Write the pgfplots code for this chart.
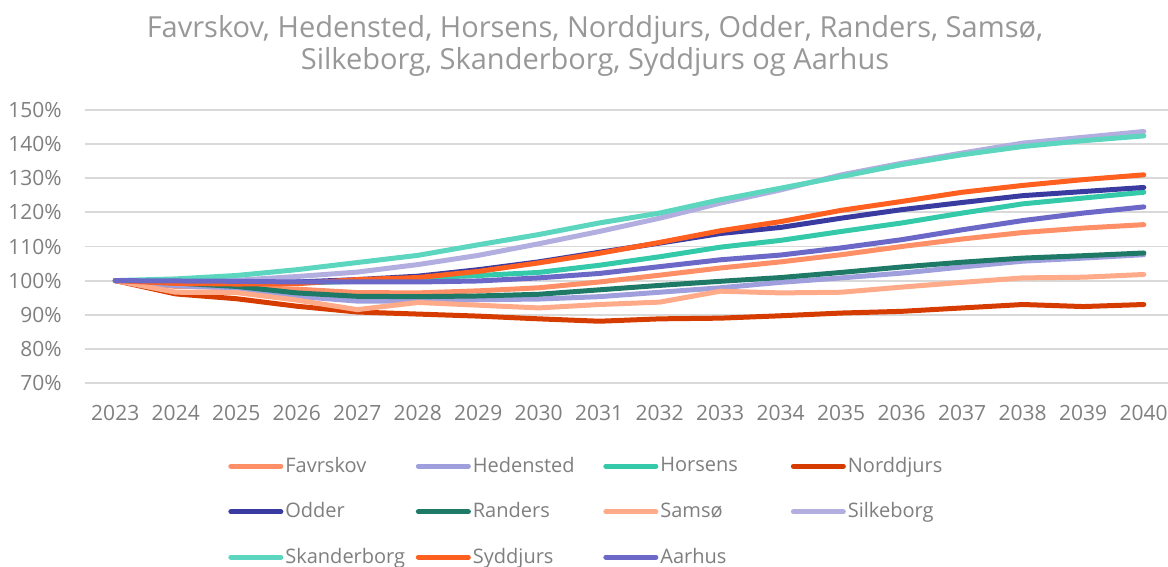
\documentclass[border=0pt]{standalone}
\usepackage{fontspec}
\setmainfont{Open Sans}
\usepackage{pgfplots}
\usepackage{pgfplotstable}
\pgfplotsset{compat=1.18}

\definecolor{txtgray}{HTML}{7F7F7F}
\definecolor{gridgray}{HTML}{D9D9D9}
\definecolor{cFavrskov}{HTML}{FF8F66}
\definecolor{cHedensted}{HTML}{A09FDD}
\definecolor{cHorsens}{HTML}{33C9A9}
\definecolor{cNorddjurs}{HTML}{D63C00}
\definecolor{cOdder}{HTML}{3A3BA0}
\definecolor{cRanders}{HTML}{1E7A66}
\definecolor{cSamsoe}{HTML}{FFAA88}
\definecolor{cSilkeborg}{HTML}{B3AEE0}
\definecolor{cSkanderborg}{HTML}{5CD6BE}
\definecolor{cSyddjurs}{HTML}{FF6020}
\definecolor{cAarhus}{HTML}{6B68C8}

% index, 2023 = 100
\pgfplotstableread{
year Favrskov Hedensted Horsens Norddjurs Odder Randers Samsoe Silkeborg Skanderborg Syddjurs Aarhus
2023 100   100   100   100   100   100   100   100   100   100   100
2024 98.3  98.5  99.8  96.1  99.5  99.3  96.6  100   100.5 99.2  99.9
2025 98.0  97.9  99.5  94.7  99.3  98.3  96.5  100.1 101.5 99.0  99.8
2026 97.5  95.4  99.3  92.5  99.6  96.4  94.3  101.2 103.2 99.1  99.6
2027 96.5  94.0  99.8  90.8  100.3 95.4  91.5  102.5 105.3 100.3 99.6
2028 96.4  94.0  100.8 90.2  101.3 95.3  93.6  104.7 107.4 100.9 99.6
2029 97.0  94.4  101.5 89.6  103.2 95.5  92.8  107.4 110.5 102.7 99.9
2030 97.9  94.6  102.4 88.8  105.5 96.0  92.0  110.8 113.5 105.2 100.8
2031 99.6  95.3  104.5 88.1  108.3 97.3  93.0  114.4 116.9 108.0 102.1
2032 101.6 96.6  107.0 88.8  111.0 98.6  93.7  118.3 119.8 111.2 104.1
2033 103.7 97.9  109.8 89.0  113.8 99.8  96.9  122.7 123.7 114.6 106.1
2034 105.5 99.5  111.8 89.7  115.6 100.9 96.4  126.6 127.1 117.3 107.5
2035 107.6 100.8 114.4 90.5  118.3 102.4 96.6  131.0 130.5 120.6 109.6
2036 110.0 102.2 116.9 91.0  120.8 104.0 98.1  134.4 134.0 123.2 112.0
2037 112.2 104.0 119.8 92.0  122.9 105.4 99.5  137.4 136.9 125.9 114.9
2038 114.1 105.7 122.5 93.0  124.9 106.6 100.8 140.3 139.3 127.9 117.6
2039 115.4 106.6 124.2 92.4  126.1 107.3 101.0 142.0 141.0 129.6 119.8
2040 116.4 107.6 125.9 93.0  127.3 108.1 101.8 143.7 142.4 131.0 121.6
}\datatable

\begin{document}
\begin{tikzpicture}
\begin{axis}[name=ax, scale only axis, width=541.5pt, height=136.5pt,
  xmin=2022.5, xmax=2040.4, ymin=70, ymax=150,
  xtick={2023,...,2040}, ytick={70,80,...,150},
  axis line style={draw=none}, major tick length=0pt,
  ymajorgrids, grid style={gridgray, line width=0.9pt},
  /pgf/number format/assume math mode=true,
  /pgf/number format/set thousands separator={},
  yticklabel={\pgfmathprintnumber{\tick}\%},
  ticklabel style={font=\fontsize{10.5}{12}\selectfont, text=txtgray},
  yticklabel style={inner sep=0pt, xshift=-11.5pt},
  xticklabel style={inner sep=0pt, yshift=-11pt},
  every axis plot/.append style={line width=2.5pt, line cap=round, line join=round},
  legend columns=4, legend cell align=left,
  legend image code/.code={\draw[line width=2.5pt, line cap=round] (0pt,0pt) -- (25pt,0pt);},
  legend style={at={(0.132,-0.22)}, anchor=north west, draw=none, inner sep=0pt,
    font=\fontsize{10}{12}\selectfont, text=txtgray,
    column sep=0pt, row sep=0pt,
    nodes={text width=64.25pt, minimum height=22.75pt, inner ysep=0pt, inner xsep=1pt}},
]
\addplot[cFavrskov] table[x=year, y=Favrskov] {\datatable};
\addlegendentry{Favrskov}
\addplot[cHedensted] table[x=year, y=Hedensted] {\datatable};
\addlegendentry{Hedensted}
\addplot[cHorsens] table[x=year, y=Horsens] {\datatable};
\addlegendentry{Horsens}
\addplot[cNorddjurs] table[x=year, y=Norddjurs] {\datatable};
\addlegendentry{Norddjurs}
\addplot[cOdder] table[x=year, y=Odder] {\datatable};
\addlegendentry{Odder}
\addplot[cRanders] table[x=year, y=Randers] {\datatable};
\addlegendentry{Randers}
\addplot[cSamsoe] table[x=year, y=Samsoe] {\datatable};
\addlegendentry{Samsø}
\addplot[cSilkeborg] table[x=year, y=Silkeborg] {\datatable};
\addlegendentry{Silkeborg}
\addplot[cSkanderborg] table[x=year, y=Skanderborg] {\datatable};
\addlegendentry{Skanderborg}
\addplot[cSyddjurs] table[x=year, y=Syddjurs] {\datatable};
\addlegendentry{Syddjurs}
\addplot[cAarhus] table[x=year, y=Aarhus] {\datatable};
\addlegendentry{Aarhus}
\end{axis}
\node[align=center, text=txtgray!80, font=\fontsize{14.5}{16}\selectfont]
  at ([xshift=255pt, yshift=32pt]ax.north west)
  {Favrskov, Hedensted, Horsens, Norddjurs, Odder, Randers, Samsø,\\Silkeborg, Skanderborg, Syddjurs og Aarhus};
\pgfresetboundingbox
\path[use as bounding box] ([shift={(-42.5pt,-92pt)}]ax.south west) rectangle ([shift={(0pt,55pt)}]ax.north east);
\end{tikzpicture}
\end{document}
